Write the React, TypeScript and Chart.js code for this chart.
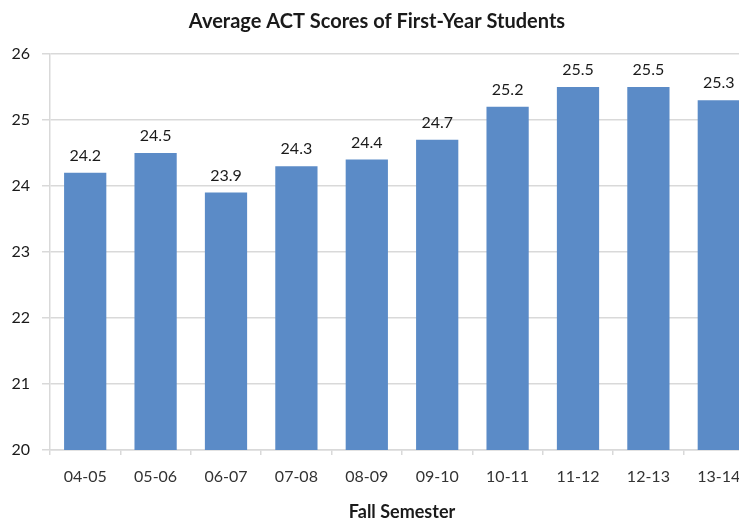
import React, { useEffect, useRef } from "react";
import { Chart, registerables } from "chart.js";

Chart.register(...registerables);

const categories = ["04-05", "05-06", "06-07", "07-08", "08-09", "09-10", "10-11", "11-12", "12-13", "13-14"];
const actScores = [24.2, 24.5, 23.9, 24.3, 24.4, 24.7, 25.2, 25.5, 25.5, 25.3];
const chartTitle = "Average ACT Scores of First-Year Students";
const xAxisTitle = "Fall Semester";

const FONT = "Lato, 'Open Sans', sans-serif";

const valueLabels = {
  id: "valueLabels",
  afterDatasetsDraw(chart: any) {
    const ctx = chart.ctx;
    const meta = chart.getDatasetMeta(0);
    ctx.save();
    ctx.font = `16px ${FONT}`;
    ctx.fillStyle = "#1a1a1a";
    ctx.textAlign = "center";
    ctx.textBaseline = "alphabetic";
    meta.data.forEach((bar: any, i: number) => {
      const v = chart.data.datasets[0].data[i];
      ctx.fillText(Number(v).toFixed(1), bar.x, bar.y - 12);
    });
    ctx.restore();
  },
};

export default function App() {
  const ref = useRef<HTMLCanvasElement>(null);
  useEffect(() => {
    if (!ref.current) return;
    const chart = new Chart(ref.current, {
      type: "bar",
      data: {
        labels: categories,
        datasets: [
          {
            data: actScores,
            backgroundColor: "rgb(91,139,199)",
            borderWidth: 0,
            barPercentage: 0.6,
            categoryPercentage: 1,
          },
        ],
      },
      options: {
        responsive: false,
        animation: false,
        layout: { padding: { left: 0, right: 12, top: 0, bottom: 0 } },
        plugins: {
          legend: { display: false },
          tooltip: { enabled: false },
          title: {
            display: true,
            text: chartTitle,
            color: "#1a1a1a",
            font: { family: FONT, size: 20, weight: "bold" },
            padding: { top: 10, bottom: 20 },
          },
        },
        scales: {
          x: {
            grid: {
              display: true,
              drawOnChartArea: false,
              drawTicks: true,
              tickLength: 5,
              color: "#d9d9d9",
              lineWidth: 1.5,
            },
            border: { display: true, color: "#d9d9d9", width: 1.5 },
            ticks: {
              color: "#333333",
              font: { family: FONT, size: 16 },
              padding: 12,
              maxRotation: 0,
            },
            title: {
              display: true,
              text: xAxisTitle,
              color: "#1a1a1a",
              font: { family: FONT, size: 18, weight: "bold" },
              padding: { top: 0, bottom: 0 },
            },
            afterFit(scale: any) {
              scale.height = 73;
            },
          },
          y: {
            min: 20,
            max: 26,
            grid: {
              color: "#d9d9d9",
              lineWidth: 1.5,
              tickLength: 8,
            },
            border: { display: true, color: "#d9d9d9", width: 1.5 },
            ticks: {
              stepSize: 1,
              color: "#1a1a1a",
              font: { family: FONT, size: 16 },
              padding: 12,
            },
            afterFit(scale: any) {
              scale.width = 50;
            },
          },
        },
      },
      plugins: [valueLabels],
    });
    return () => chart.destroy();
  }, []);
  return (
    <div style={{ position: "fixed", left: 0, top: 0, width: 739, height: 523, overflow: "hidden", background: "#fff" }}>
      <canvas ref={ref} width={766} height={523} style={{ display: "block", width: 766, height: 523 }} />
    </div>
  );
}
